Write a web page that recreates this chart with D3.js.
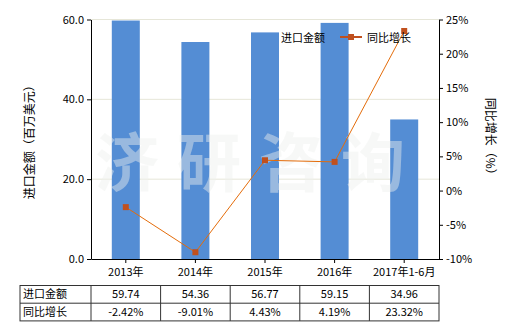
<!DOCTYPE html>
<html>
<head>
<meta charset="utf-8">
<script src="https://cdn.jsdelivr.net/npm/d3@7"></script>
<style>
  body { margin:0; background:#fff; }
  text { font-family: "Noto Sans CJK SC", "DejaVu Sans", sans-serif; }
</style>
</head>
<body>
<div id="chart"></div>
<script>
// data
var categories = ["2013年", "2014年", "2015年", "2016年", "2017年1-6月"];
var amounts = [59.74, 54.36, 56.77, 59.15, 34.96];
var growth = [-2.42, -9.01, 4.43, 4.19, 23.32];
var leftTicks = [0, 20, 40, 60];
var rightTicks = [-10, -5, 0, 5, 10, 15, 20, 25];
var amountLabels = ["59.74", "54.36", "56.77", "59.15", "34.96"];
var growthLabels = ["-2.42%", "-9.01%", "4.43%", "4.19%", "23.32%"];

var W = 520, H = 330;
var plotL = 91, plotR = 439, plotT = 19.5, plotB = 259;

var svg = d3.select("#chart").append("svg")
  .attr("width", W).attr("height", H);

var x = d3.scaleBand().domain(categories).range([plotL, plotR]);
var yL = d3.scaleLinear().domain([0, 60]).range([plotB, plotT]);
var yR = d3.scaleLinear().domain([-10, 25]).range([plotB, plotT]);

// gridlines
svg.append("g").selectAll("line").data(leftTicks.slice(1)).enter().append("line")
  .attr("x1", plotL).attr("x2", plotR)
  .attr("y1", function(d){ return yL(d); }).attr("y2", function(d){ return yL(d); })
  .attr("stroke", "#e6e6d8").attr("stroke-width", 1);

// bars
var bw = 28;
svg.append("g").selectAll("rect").data(amounts).enter().append("rect")
  .attr("x", function(d, i){ return x(categories[i]) + x.bandwidth()/2 - bw/2; })
  .attr("y", function(d){ return yL(d); })
  .attr("width", bw)
  .attr("height", function(d){ return plotB - yL(d); })
  .attr("fill", "#548dd4");

// watermark
svg.append("text").attr("x", 95).attr("y", 186)
  .attr("font-size", 64).attr("font-weight", "bold")
  .attr("fill", "#eef0ee").attr("fill-opacity", 0.45)
  .attr("letter-spacing", 18)
  .text("济研咨询");

// left axis
var axL = svg.append("g").attr("transform", "translate(" + plotL + ",0)")
  .call(d3.axisLeft(yL).tickValues(leftTicks).tickFormat(d3.format(".1f")).tickSize(4).tickSizeOuter(0));
// right axis
var axR = svg.append("g").attr("transform", "translate(" + plotR + ",0)")
  .call(d3.axisRight(yR).tickValues(rightTicks).tickFormat(function(d){ return d + "%"; }).tickSize(4).tickSizeOuter(0));
// bottom axis
var axB = svg.append("g").attr("transform", "translate(0," + plotB + ")")
  .call(d3.axisBottom(x).tickSize(4).tickSizeOuter(0));

[axL, axR, axB].forEach(function(a){
  a.selectAll("path, line").attr("stroke", "#000");
  a.selectAll("text").attr("font-size", 11).attr("fill", "#000");
});
axB.selectAll("text").attr("dy", "0.9em");

// line
var line = d3.line()
  .x(function(d, i){ return x(categories[i]) + x.bandwidth()/2; })
  .y(function(d){ return yR(d); });
svg.append("path").datum(growth).attr("d", line)
  .attr("fill", "none").attr("stroke", "#e46c0a").attr("stroke-width", 1);
svg.append("g").selectAll("rect").data(growth).enter().append("rect")
  .attr("x", function(d, i){ return x(categories[i]) + x.bandwidth()/2 - 3; })
  .attr("y", function(d){ return yR(d) - 3; })
  .attr("width", 6).attr("height", 6)
  .attr("fill", "#c0501e");

// legend
svg.append("rect").attr("x", 262).attr("y", 33).attr("width", 16).attr("height", 9).attr("fill", "#548dd4");
svg.append("text").attr("x", 281).attr("y", 42).attr("font-size", 11).text("进口金额");
svg.append("line").attr("x1", 340).attr("x2", 362).attr("y1", 37).attr("y2", 37)
  .attr("stroke", "#c0501e").attr("stroke-width", 2);
svg.append("rect").attr("x", 348).attr("y", 34).attr("width", 6).attr("height", 6).attr("fill", "#c0501e");
svg.append("text").attr("x", 367).attr("y", 42).attr("font-size", 11).text("同比增长");

// axis titles
svg.append("text").attr("transform", "translate(34," + ((plotT + plotB)/2) + ") rotate(-90)")
  .attr("text-anchor", "middle").attr("font-size", 12).text("进口金额（百万美元）");
svg.append("text").attr("transform", "translate(486," + ((plotT + plotB)/2) + ") rotate(90)")
  .attr("text-anchor", "middle").attr("font-size", 12).text("同比增长（%）");

// table
var tLeft = 20, rowTop = 285.5, rowH = 17.7;
var rows = [["进口金额", amountLabels], ["同比增长", growthLabels]];
var tg = svg.append("g");
tg.append("rect").attr("x", tLeft).attr("y", rowTop).attr("width", plotR - tLeft).attr("height", rowH*2)
  .attr("fill", "none").attr("stroke", "#333");
tg.append("line").attr("x1", tLeft).attr("x2", plotR).attr("y1", rowTop + rowH).attr("y2", rowTop + rowH).attr("stroke", "#333");
categories.forEach(function(c){
  tg.append("line").attr("x1", x(c)).attr("x2", x(c)).attr("y1", rowTop).attr("y2", rowTop + rowH*2).attr("stroke", "#333");
});
rows.forEach(function(r, ri){
  var cy = rowTop + rowH*ri + rowH/2 + 4;
  tg.append("text").attr("x", tLeft + 3).attr("y", cy).attr("font-size", 11).text(r[0]);
  r[1].forEach(function(v, i){
    tg.append("text").attr("x", x(categories[i]) + x.bandwidth()/2).attr("y", cy)
      .attr("text-anchor", "middle").attr("font-size", 11).text(v);
  });
});
</script>
</body>
</html>
